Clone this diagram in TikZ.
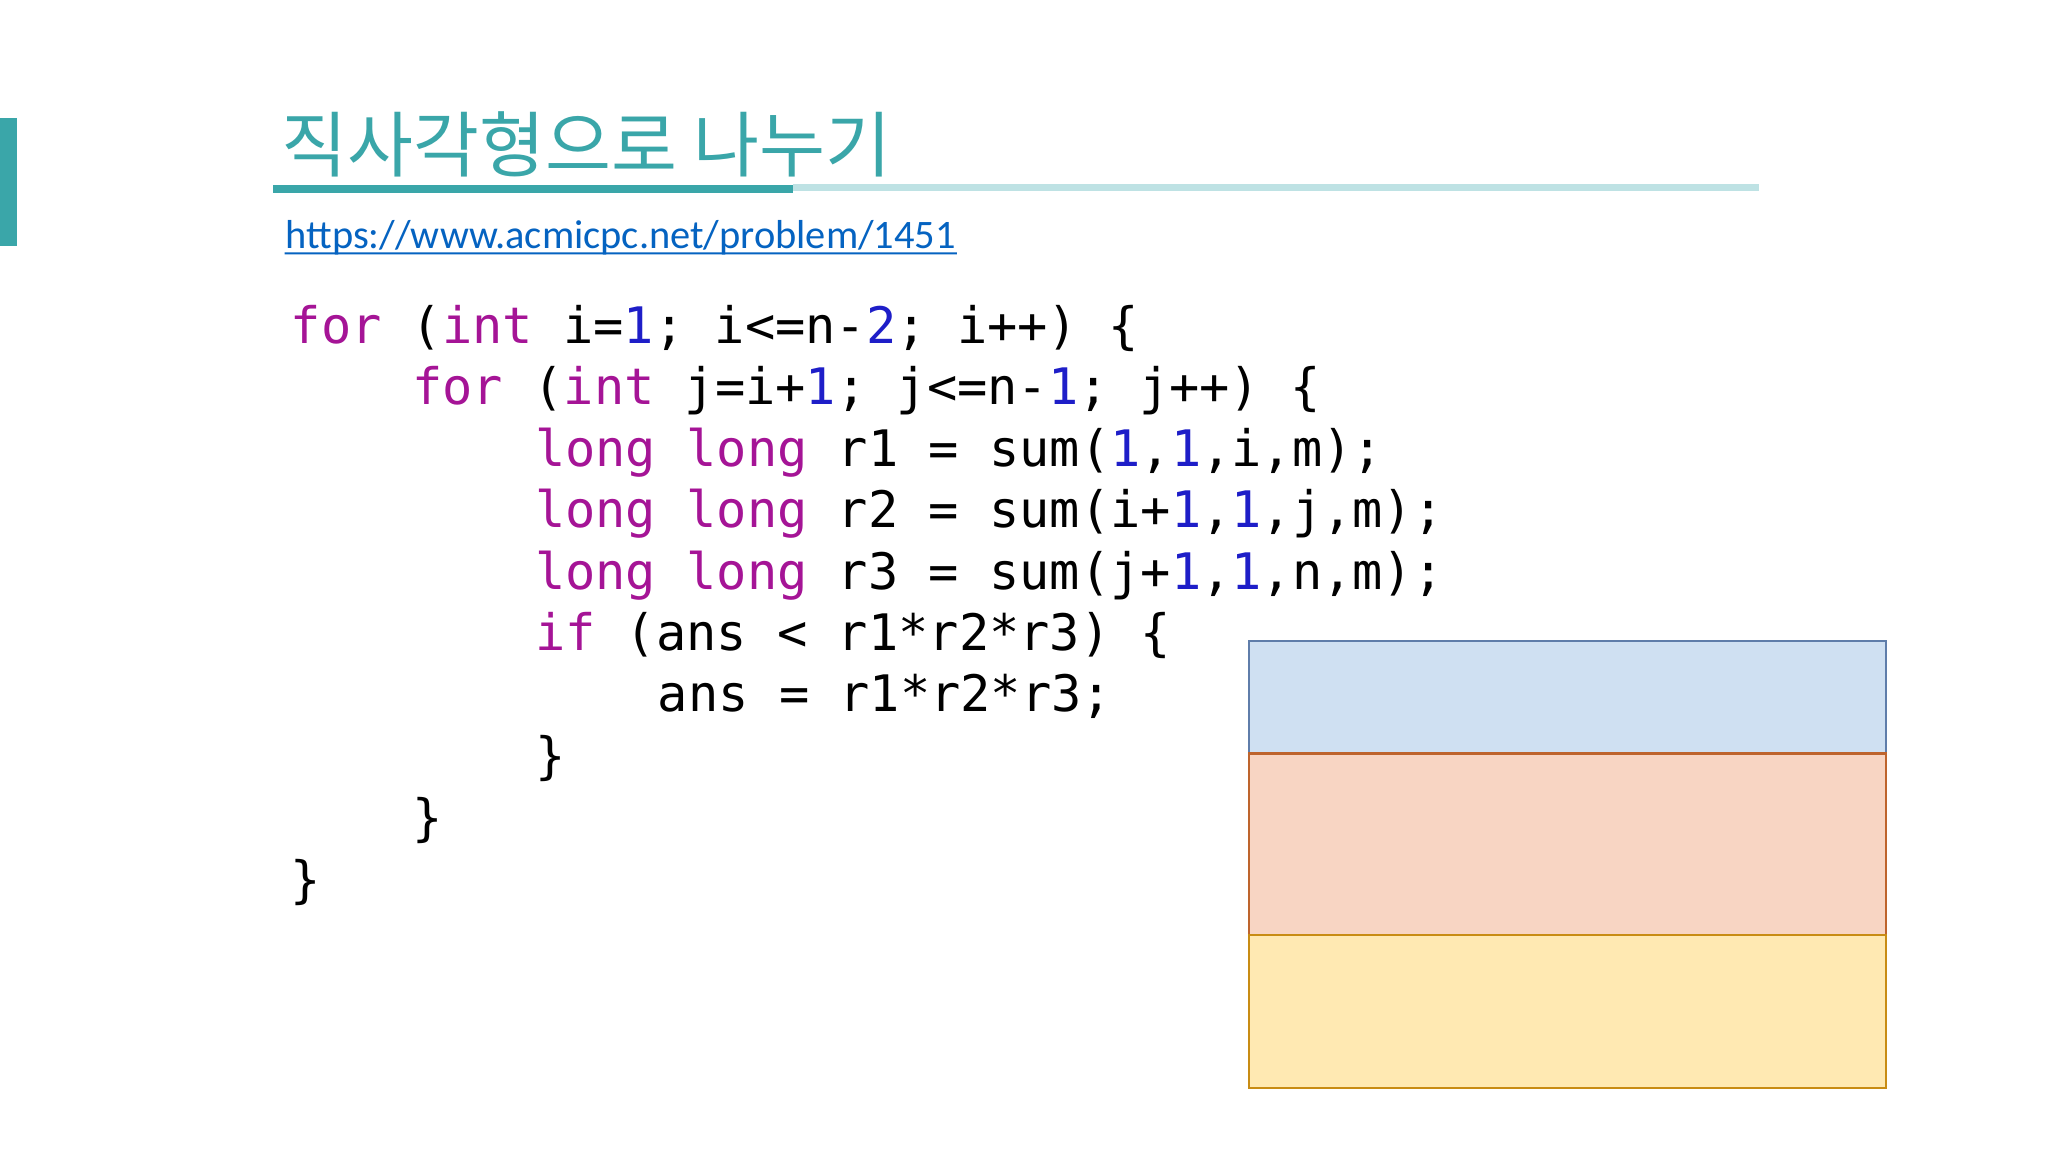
\documentclass[tikz,border=0pt]{standalone}
\usepackage{fontspec}
\setmonofont{DejaVu Sans Mono}
\newfontfamily\krfont{Noto Sans CJK KR}
\newfontfamily\urlfont{Carlito}
\definecolor{teal1}{RGB}{58,166,169}
\definecolor{teal2}{RGB}{190,226,228}
\definecolor{kwc}{RGB}{165,20,150}
\definecolor{nmc}{RGB}{30,30,200}
\definecolor{urlc}{RGB}{5,99,193}
\newcommand{\kw}[1]{\textcolor{kwc}{#1}}
\newcommand{\nm}[1]{\textcolor{nmc}{#1}}
\tikzset{codeline/.style={anchor=base west,inner sep=0,font=\ttfamily\fontsize{10.95pt}{13pt}\selectfont},
box/.style={line width=0.5pt}}
\begin{document}
\begin{tikzpicture}[x=0.01cm,y=-0.01cm]
\useasboundingbox[fill=white] (0,0) rectangle (1568,882);
\fill[teal1] (0,90) rectangle (13,188);
\node[anchor=base west,inner sep=0,text=teal1,font=\krfont\fontsize{15.6pt}{17pt}\selectfont] (title) at (215,131) {직사각형으로 나누기};
\fill[teal2] (607,140.5) rectangle (1347,146);
\fill[teal1] (209,142) rectangle (607,148);
\node[anchor=base west,inner sep=0,text=urlc,font=\urlfont\fontsize{8.8pt}{10pt}\selectfont] (url) at (218,190) {https://www.acmicpc.net/problem/1451};
\draw[urlc,line width=0.4pt] (url.base west)++(0,4) -- ([yshift=-0.04cm]url.base east);
\node[codeline] (l1) at (222,263) {\kw{for} (\kw{int} i=\nm{1}; i<=n-\nm{2}; i++) \{};
\node[codeline] (l2) at (315,310) {\kw{for} (\kw{int} j=i+\nm{1}; j<=n-\nm{1}; j++) \{};
\node[codeline] (l3) at (409,357) {\kw{long} \kw{long} r1 = sum(\nm{1},\nm{1},i,m);};
\node[codeline] (l4) at (409,404) {\kw{long} \kw{long} r2 = sum(i+\nm{1},\nm{1},j,m);};
\node[codeline] (l5) at (409,451) {\kw{long} \kw{long} r3 = sum(j+\nm{1},\nm{1},n,m);};
\node[codeline] (l6) at (409,498) {\kw{if} (ans < r1*r2*r3) \{};
\node[codeline] (l7) at (503,545) {ans = r1*r2*r3;};
\node[codeline] (l8) at (409,592) {\}};
\node[codeline] (l9) at (315,640) {\}};
\node[codeline] (l10) at (222,687) {\}};
\draw[box,fill={rgb,255:red,207;green,224;blue,242},draw={rgb,255:red,95;green,125;blue,170}] (956,491) rectangle (1444,577);
\draw[box,fill={rgb,255:red,248;green,213;blue,195},draw={rgb,255:red,190;green,100;blue,45}] (956,577) rectangle (1444,716);
\draw[box,fill={rgb,255:red,255;green,233;blue,178},draw={rgb,255:red,200;green,140;blue,20}] (956,716) rectangle (1444,833);
\end{tikzpicture}
\end{document}
